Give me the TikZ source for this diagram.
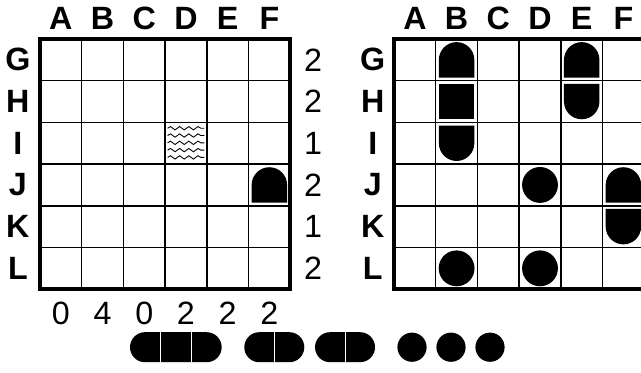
\documentclass[tikz,border=0pt]{standalone}
\usepackage{fontspec}
\setmainfont{Liberation Sans}
\usetikzlibrary{decorations.pathmorphing}

% ship segments inside a cell, (#1,#2) = lower left corner
\newcommand{\segtop}[2]{\fill (#1+0.075,#2+0.075) -- (#1+0.075,#2+0.5) arc[start angle=180,end angle=0,radius=0.425] -- (#1+0.925,#2+0.075) -- cycle;}
\newcommand{\segbot}[2]{\fill (#1+0.075,#2+0.925) -- (#1+0.075,#2+0.5) arc[start angle=180,end angle=360,radius=0.425] -- (#1+0.925,#2+0.925) -- cycle;}
\newcommand{\segmid}[2]{\fill (#1+0.075,#2+0.075) rectangle (#1+0.925,#2+0.925);}
\newcommand{\segsub}[2]{\fill (#1+0.5,#2+0.5) circle[radius=0.43];}
% fleet pill from #1 to #2
\newcommand{\fleetship}[2]{\fill (#1+0.36,-1.751) arc[start angle=270,end angle=90,radius=0.36] -- (#2-0.36,-1.031) arc[start angle=90,end angle=-90,radius=0.36] -- cycle;}
\newcommand{\boardfont}{\fontsize{22pt}{24pt}\selectfont}

\begin{document}
\begin{tikzpicture}[
    gridline/.style={line width=1pt},
    frame/.style={line width=3pt},
    letter/.style={font=\boardfont\bfseries},
    count/.style={font=\boardfont},
    water/.style={line width=0.6pt, decorate, decoration={snake, segment length=0.22cm, amplitude=0.04cm}},
    divider/.style={white, line width=1pt}
  ]
  \path[use as bounding box, clip] (-0.959,-1.990) rectangle (14.412,6.935);

  % left board
  \draw[gridline] (0,0) grid (6,6);
  \draw[frame] (0,0) rectangle (6,6);
  \foreach \l [count=\i from 0] in {A,B,C,D,E,F}
    \node[letter] (lcol\l) at (\i+0.5,6.5) {\l};
  \foreach \l [count=\j from 0] in {G,H,I,J,K,L}
    \node[letter] (lrow\l) at (-0.53,5.5-\j) {\l};
  \foreach \n [count=\j from 0] in {2,2,1,2,1,2}
    \node[count] (rnum\j) at (6.55,5.5-\j) {\n};
  \foreach \n [count=\i from 0] in {0,4,0,2,2,2}
    \node[count] (cnum\i) at (\i+0.5,-0.58) {\n};
  \foreach \y in {0.86,0.685,0.51,0.335,0.16}
    \draw[water] (3.06,3+\y) -- (3.94,3+\y);
  \segtop{5}{2}

  % right board
  \begin{scope}[xshift=8.49cm]
    \draw[gridline] (0,0) grid (6,6);
    \draw[frame] (0,0) rectangle (6,6);
    \foreach \l [count=\i from 0] in {A,B,C,D,E,F}
      \node[letter] (scol\l) at (\i+0.5,6.5) {\l};
    \foreach \l [count=\j from 0] in {G,H,I,J,K,L}
      \node[letter] (srow\l) at (-0.51,5.5-\j) {\l};
    \segtop{1}{5} \segmid{1}{4} \segbot{1}{3}
    \segtop{4}{5} \segbot{4}{4}
    \segtop{5}{2} \segbot{5}{1}
    \segsub{3}{2} \segsub{1}{0} \segsub{3}{0}
  \end{scope}

  % fleet
  \fleetship{2.158}{4.357}
  \draw[divider] (2.894,-1.8) -- (2.894,-0.98);
  \draw[divider] (3.628,-1.8) -- (3.628,-0.98);
  \fleetship{4.899}{6.338}
  \draw[divider] (5.619,-1.8) -- (5.619,-0.98);
  \fleetship{6.595}{8.034}
  \draw[divider] (7.331,-1.8) -- (7.331,-0.98);
  \foreach \x in {8.921,9.856,10.791}
    \fill (\x,-1.391) circle[radius=0.35];
\end{tikzpicture}
\end{document}
